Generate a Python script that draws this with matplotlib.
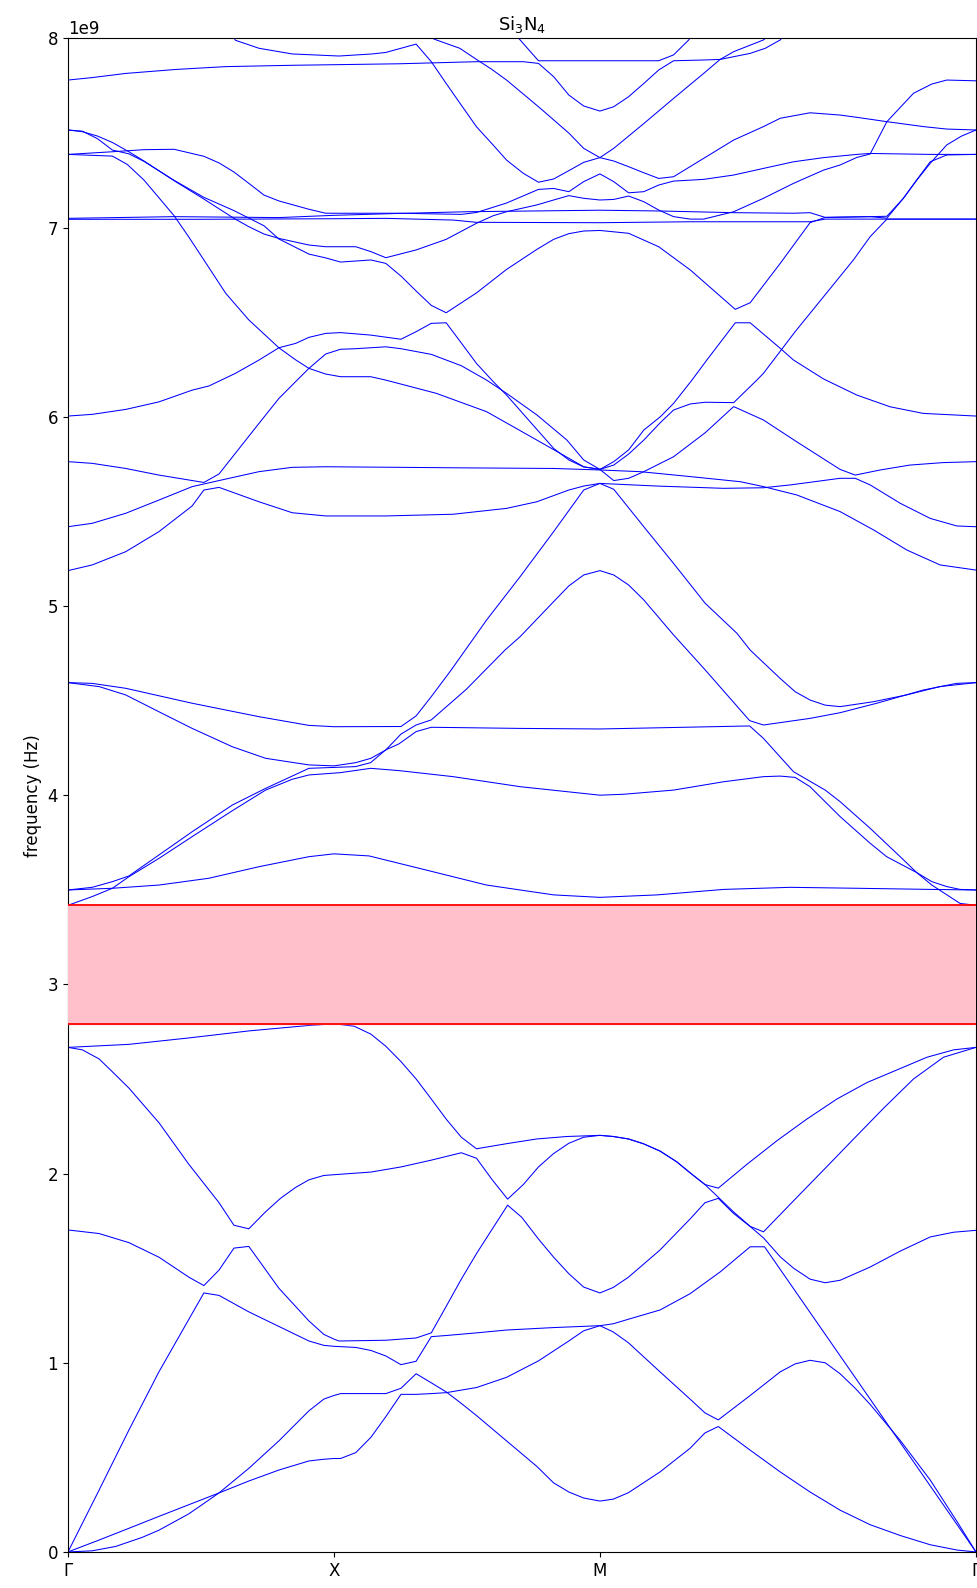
import numpy as np
import matplotlib
matplotlib.use('Agg')
import matplotlib.pyplot as plt

# path Γ-X-M-Γ, |M-Γ| = sqrt(2) * |Γ-X|
k_ticks = [0.0, 1.0, 2.0, 2.0 + np.sqrt(2)]
k_labels = ['Γ', 'X', 'M', 'Γ']

# bands as (k, frequency / 1e9 Hz)
b01 = [(0,0),(0.091,0.006),(0.179,0.029),(0.279,0.077),(0.342,0.115),(0.455,0.202),(0.568,0.312),(0.680,0.442),(0.793,0.587),(0.906,0.746),(0.962,0.808),(1.0,0.827),(1.025,0.837),(1.195,0.837),(1.252,0.865),(1.309,0.942),(1.366,0.894),(1.422,0.846),(1.479,0.785),(1.536,0.721),(1.649,0.587),(1.763,0.452),(1.826,0.365),(1.883,0.317),(1.939,0.285),(2.0,0.269),(2.05,0.279),(2.107,0.313),(2.226,0.423),(2.339,0.548),(2.395,0.629),(2.445,0.663),(2.565,0.538),(2.678,0.423),(2.790,0.317),(2.903,0.221),(3.016,0.144),(3.129,0.087),(3.242,0.038),(3.343,0.01),(3.414,0)]
b02 = [(0,0),(0.117,0.063),(0.229,0.125),(0.342,0.188),(0.455,0.25),(0.568,0.312),(0.680,0.375),(0.793,0.433),(0.906,0.481),(0.962,0.490),(1.0,0.494),(1.025,0.494),(1.082,0.525),(1.139,0.606),(1.195,0.715),(1.252,0.833),(1.309,0.833),(1.366,0.837),(1.422,0.842),(1.536,0.869),(1.649,0.923),(1.769,1.01),(1.883,1.115),(1.939,1.169),(2.0,1.196),(2.05,1.163),(2.107,1.106),(2.226,0.952),(2.339,0.808),(2.395,0.735),(2.445,0.698),(2.565,0.827),(2.678,0.952),(2.734,0.994),(2.790,1.013),(2.847,1.0),(2.903,0.942),(2.960,0.865),(3.016,0.78),(3.129,0.59),(3.242,0.38),(3.343,0.16),(3.414,0)]
b03 = [(0,0),(0.117,0.327),(0.229,0.644),(0.342,0.952),(0.455,1.231),(0.511,1.369),(0.568,1.356),(0.680,1.269),(0.793,1.192),(0.906,1.115),(0.962,1.092),(1.0,1.087),(1.082,1.081),(1.139,1.065),(1.195,1.036),(1.252,0.99),(1.309,1.008),(1.366,1.138),(1.422,1.144),(1.536,1.158),(1.649,1.173),(1.826,1.186),(2.0,1.196),(2.05,1.206),(2.107,1.23),(2.226,1.279),(2.339,1.365),(2.452,1.48),(2.565,1.613),(2.619,1.613),(3.016,0.808),(3.414,0)]
b04 = [(0,1.702),(0.117,1.683),(0.229,1.635),(0.342,1.558),(0.455,1.452),(0.511,1.408),(0.568,1.490),(0.624,1.606),(0.680,1.615),(0.793,1.394),(0.906,1.221),(0.962,1.15),(1.0,1.125),(1.019,1.115),(1.195,1.119),(1.309,1.131),(1.366,1.158),(1.422,1.298),(1.479,1.442),(1.536,1.577),(1.593,1.702),(1.653,1.833),(1.706,1.769),(1.769,1.654),(1.826,1.558),(1.883,1.471),(1.939,1.4),(2.0,1.369),(2.05,1.398),(2.107,1.452),(2.226,1.596),(2.339,1.76),(2.395,1.846),(2.445,1.869),(2.502,1.79),(2.565,1.72),(2.615,1.66),(2.678,1.56),(2.728,1.5),(2.790,1.442),(2.847,1.423),(2.903,1.436),(3.016,1.506),(3.129,1.59),(3.242,1.665),(3.330,1.69),(3.414,1.70)]
b05 = [(0,2.667),(0.054,2.654),(0.117,2.606),(0.167,2.538),(0.229,2.452),(0.342,2.269),(0.455,2.048),(0.568,1.846),(0.624,1.727),(0.680,1.708),(0.743,1.798),(0.799,1.869),(0.856,1.927),(0.906,1.967),(0.962,1.99),(1.0,1.994),(1.139,2.008),(1.252,2.035),(1.366,2.071),(1.479,2.11),(1.536,2.081),(1.593,1.971),(1.653,1.865),(1.712,1.942),(1.769,2.035),(1.826,2.106),(1.883,2.16),(1.939,2.192),(2.0,2.202),(2.05,2.196),(2.107,2.183),(2.163,2.158),(2.226,2.119),(2.289,2.062),(2.339,2.004),(2.395,1.942),(2.445,1.875),(2.502,1.798),(2.565,1.721),(2.615,1.692),(2.728,1.856),(2.841,2.019),(2.954,2.183),(3.067,2.346),(3.179,2.5),(3.292,2.615),(3.414,2.667)]
b06 = [(0,2.667),(0.229,2.683),(0.455,2.717),(0.680,2.754),(0.906,2.783),(0.962,2.788),(1.0,2.792),(1.076,2.779),(1.139,2.737),(1.195,2.673),(1.252,2.592),(1.309,2.5),(1.366,2.394),(1.422,2.288),(1.479,2.192),(1.536,2.131),(1.649,2.158),(1.763,2.183),(1.876,2.196),(2.0,2.202),(2.05,2.196),(2.107,2.183),(2.163,2.158),(2.226,2.119),(2.289,2.062),(2.339,2.004),(2.395,1.942),(2.445,1.923),(2.552,2.048),(2.665,2.173),(2.778,2.288),(2.891,2.394),(3.004,2.481),(3.117,2.548),(3.230,2.615),(3.330,2.654),(3.414,2.667)]
b07 = [(0,3.418),(0.091,3.464),(0.167,3.508),(0.229,3.569),(0.342,3.666),(0.467,3.781),(0.618,3.918),(0.743,4.027),(0.843,4.084),(0.906,4.107),(1.023,4.119),(1.138,4.142),(1.244,4.13),(1.448,4.098),(1.70,4.045),(2.0,4.0),(2.09,4.005),(2.277,4.027),(2.465,4.071),(2.615,4.098),(2.678,4.101),(2.734,4.094),(2.79,4.045),(2.903,3.887),(3.016,3.746),(3.078,3.675),(3.191,3.591),(3.248,3.525),(3.354,3.428),(3.414,3.418)]
b08 = [(0,3.499),(0.091,3.513),(0.167,3.543),(0.229,3.573),(0.342,3.684),(0.467,3.807),(0.618,3.948),(0.743,4.036),(0.843,4.101),(0.906,4.142),(1.081,4.151),(1.138,4.172),(1.194,4.239),(1.244,4.271),(1.309,4.336),(1.366,4.359),(1.70,4.353),(2.0,4.35),(2.563,4.366),(2.615,4.3),(2.728,4.124),(2.847,4.027),(2.903,3.966),(3.016,3.825),(3.129,3.675),(3.191,3.591),(3.248,3.543),(3.304,3.517),(3.354,3.502),(3.414,3.499)]
b09 = [(0,3.499),(0.167,3.508),(0.342,3.525),(0.53,3.561),(0.718,3.622),(0.906,3.675),(1.0,3.69),(1.132,3.679),(1.322,3.613),(1.574,3.525),(1.826,3.473),(2.0,3.46),(2.215,3.473),(2.465,3.502),(2.716,3.513),(2.966,3.508),(3.242,3.502),(3.414,3.499)]
b10 = [(0,4.595),(0.091,4.591),(0.217,4.565),(0.467,4.486),(0.718,4.415),(0.906,4.369),(1.0,4.362),(1.252,4.363),(1.309,4.419),(1.366,4.521),(1.441,4.662),(1.574,4.926),(1.70,5.155),(1.826,5.393),(1.939,5.613),(2.0,5.648),(2.052,5.617),(2.165,5.419),(2.277,5.225),(2.396,5.014),(2.515,4.856),(2.565,4.767),(2.678,4.617),(2.734,4.547),(2.79,4.503),(2.847,4.476),(2.903,4.468),(3.028,4.494),(3.153,4.53),(3.278,4.574),(3.414,4.595)]
b11 = [(0,4.595),(0.117,4.574),(0.217,4.53),(0.342,4.441),(0.467,4.353),(0.618,4.256),(0.743,4.195),(0.906,4.16),(1.0,4.155),(1.082,4.172),(1.139,4.195),(1.195,4.239),(1.252,4.323),(1.309,4.371),(1.366,4.398),(1.498,4.56),(1.643,4.767),(1.70,4.838),(1.826,5.023),(1.883,5.106),(1.939,5.164),(2.0,5.187),(2.052,5.164),(2.108,5.111),(2.165,5.032),(2.277,4.847),(2.396,4.662),(2.563,4.394),(2.615,4.371),(2.79,4.406),(2.903,4.436),(3.041,4.486),(3.216,4.556),(3.341,4.591),(3.414,4.595)]
b12 = [(0,5.187),(0.091,5.217),(0.217,5.287),(0.342,5.393),(0.467,5.529),(0.511,5.613),(0.568,5.627),(0.718,5.551),(0.843,5.493),(0.969,5.476),(1.195,5.476),(1.448,5.485),(1.649,5.516),(1.763,5.551),(1.883,5.613),(1.939,5.634),(2.0,5.648),(2.215,5.634),(2.465,5.622),(2.615,5.625),(2.716,5.64),(2.903,5.675),(2.96,5.675),(3.016,5.64),(3.129,5.543),(3.242,5.463),(3.342,5.423),(3.414,5.419)]
b13 = [(0,5.419),(0.091,5.437),(0.217,5.49),(0.342,5.56),(0.467,5.631),(0.568,5.663),(0.718,5.71),(0.843,5.733),(0.969,5.736),(1.244,5.733),(1.5,5.73),(1.826,5.727),(2.0,5.719),(2.152,5.71),(2.34,5.684),(2.528,5.657),(2.615,5.631),(2.74,5.587),(2.903,5.499),(3.029,5.402),(3.154,5.296),(3.279,5.217),(3.414,5.19)]
b14 = [(0,5.763),(0.091,5.754),(0.217,5.727),(0.342,5.692),(0.511,5.653),(0.568,5.698),(0.718,5.965),(0.793,6.097),(0.856,6.186),(0.906,6.256),(0.969,6.332),(1.025,6.357),(1.082,6.36),(1.195,6.37),(1.252,6.36),(1.366,6.33),(1.479,6.27),(1.574,6.194),(1.649,6.124),(1.763,6.01),(1.876,5.877),(1.939,5.772),(2.0,5.722),(2.052,5.663),(2.108,5.675),(2.165,5.71),(2.277,5.789),(2.396,5.916),(2.503,6.054),(2.615,5.983),(2.74,5.868),(2.903,5.722),(2.96,5.692),(3.054,5.719),(3.166,5.745),(3.291,5.758),(3.414,5.763)]
b15 = [(0,6.004),(0.091,6.013),(0.217,6.039),(0.342,6.079),(0.467,6.141),(0.530,6.163),(0.630,6.23),(0.718,6.3),(0.793,6.365),(0.856,6.388),(0.906,6.42),(0.969,6.441),(1.025,6.445),(1.138,6.432),(1.252,6.41),(1.309,6.45),(1.366,6.494),(1.422,6.497),(1.479,6.39),(1.536,6.282),(1.599,6.186),(1.649,6.115),(1.826,5.833),(1.883,5.772),(1.939,5.735),(2.0,5.722),(2.052,5.763),(2.108,5.825),(2.165,5.93),(2.227,6.0),(2.277,6.071),(2.346,6.194),(2.402,6.3),(2.509,6.497),(2.565,6.497),(2.678,6.362),(2.728,6.3),(2.841,6.2),(2.966,6.115),(3.091,6.053),(3.216,6.018),(3.414,6.004)]
b16 = [(0,7.387),(0.167,7.378),(0.223,7.334),(0.286,7.251),(0.399,7.063),(0.455,6.949),(0.511,6.829),(0.593,6.653),(0.680,6.512),(0.793,6.365),(0.856,6.301),(0.906,6.256),(0.969,6.226),(1.025,6.212),(1.138,6.212),(1.195,6.194),(1.385,6.124),(1.574,6.027),(1.763,5.877),(1.883,5.781),(1.939,5.736),(2.0,5.722),(2.052,5.745),(2.108,5.803),(2.165,5.877),(2.227,5.969),(2.277,6.036),(2.34,6.068),(2.396,6.077),(2.503,6.075),(2.59,6.194),(2.615,6.23),(2.734,6.45),(2.841,6.635),(2.953,6.829),(3.016,6.952),(3.079,7.045),(3.216,7.045),(3.414,7.045)]
b17 = [(0,7.044),(0.5,7.044),(1.0,7.047),(1.195,7.049),(1.448,7.04),(1.536,7.028),(2.0,7.026),(2.34,7.031),(2.79,7.031),(2.847,7.045),(3.414,7.045)]
b18 = [(0,7.049),(0.399,7.058),(0.793,7.053),(1.0,7.065),(1.244,7.075),(1.5,7.084),(1.75,7.088),(2.0,7.092),(2.221,7.088),(2.503,7.079),(2.728,7.076),(2.79,7.079),(2.847,7.054),(3.016,7.058),(3.079,7.06),(3.141,7.155),(3.191,7.252),(3.242,7.348),(3.304,7.384),(3.414,7.387)]
b19 = [(0,7.387),(0.167,7.401),(0.286,7.412),(0.399,7.414),(0.511,7.377),(0.568,7.342),(0.624,7.294),(0.680,7.234),(0.737,7.172),(0.793,7.141),(0.906,7.097),(0.969,7.076),(1.081,7.076),(1.244,7.076),(1.479,7.07),(1.536,7.08),(1.649,7.13),(1.769,7.202),(1.826,7.207),(1.883,7.19),(1.939,7.243),(2.0,7.284),(2.052,7.243),(2.108,7.184),(2.165,7.19),(2.221,7.225),(2.277,7.246),(2.39,7.255),(2.503,7.278),(2.615,7.313),(2.728,7.348),(2.841,7.37),(2.966,7.387),(3.016,7.392),(3.242,7.387),(3.414,7.387)]
b20 = [(0,7.516),(0.054,7.507),(0.111,7.484),(0.167,7.45),(0.229,7.401),(0.286,7.352),(0.399,7.248),(0.511,7.151),(0.624,7.049),(0.680,7.005),(0.737,6.966),(0.793,6.943),(0.906,6.908),(0.969,6.899),(1.082,6.899),(1.139,6.873),(1.195,6.841),(1.309,6.882),(1.422,6.938),(1.536,7.023),(1.599,7.063),(1.649,7.084),(1.763,7.12),(1.826,7.146),(1.883,7.169),(1.939,7.155),(2.0,7.146),(2.052,7.149),(2.108,7.167),(2.165,7.137),(2.221,7.093),(2.277,7.058),(2.34,7.045),(2.39,7.045),(2.503,7.084),(2.615,7.155),(2.728,7.234),(2.841,7.304),(2.903,7.331),(2.966,7.371),(3.016,7.389),(3.079,7.56),(3.179,7.71),(3.248,7.759),(3.304,7.78),(3.414,7.776)]
b21 = [(0,7.516),(0.054,7.51),(0.111,7.47),(0.167,7.41),(0.229,7.39),(0.286,7.35),(0.399,7.25),(0.511,7.16),(0.624,7.09),(0.737,7.01),(0.793,6.94),(0.906,6.86),(0.969,6.84),(1.025,6.818),(1.139,6.829),(1.195,6.811),(1.252,6.744),(1.309,6.665),(1.366,6.589),(1.422,6.55),(1.536,6.655),(1.649,6.779),(1.763,6.885),(1.826,6.938),(1.883,6.968),(1.939,6.982),(2.0,6.985),(2.108,6.97),(2.221,6.899),(2.34,6.776),(2.509,6.568),(2.565,6.603),(2.678,6.811),(2.79,7.026),(2.847,7.054),(3.016,7.058),(3.079,7.05),(3.141,7.155),(3.191,7.25),(3.242,7.34),(3.304,7.437),(3.36,7.484),(3.414,7.516)]
b22 = [(0,7.78),(0.091,7.793),(0.217,7.815),(0.405,7.836),(0.593,7.851),(0.843,7.858),(1.244,7.866),(1.536,7.877),(1.712,7.877),(1.769,7.868),(1.826,7.798),(1.883,7.701),(1.939,7.643),(2.0,7.616),(2.052,7.639),(2.108,7.692),(2.165,7.762),(2.221,7.833),(2.277,7.882),(2.39,7.886),(2.452,7.889),(2.565,7.921),(2.622,7.948),(2.678,7.992),(2.72,8.06)]
b23 = [(0.6,8.05),(0.63,7.99),(0.718,7.948),(0.843,7.918),(1.019,7.907),(1.144,7.918),(1.195,7.926),(1.309,7.97),(1.366,7.877),(1.422,7.762),(1.479,7.647),(1.536,7.533),(1.599,7.436),(1.649,7.357),(1.712,7.287),(1.769,7.24),(1.826,7.257),(1.883,7.301),(1.939,7.345),(2.0,7.37),(2.052,7.419),(2.165,7.55),(2.277,7.683),(2.39,7.815),(2.452,7.889),(2.503,7.93),(2.615,7.992),(2.66,8.05)]
b24 = [(1.3,8.04),(1.385,7.992),(1.473,7.948),(1.536,7.889),(1.593,7.837),(1.649,7.78),(1.769,7.639),(1.883,7.5),(1.939,7.419),(2.0,7.37),(2.052,7.352),(2.108,7.322),(2.165,7.29),(2.221,7.26),(2.277,7.269),(2.39,7.366),(2.503,7.463),(2.615,7.534),(2.678,7.578),(2.79,7.607),(2.903,7.595),(2.966,7.583),(3.079,7.56),(3.216,7.534),(3.304,7.521),(3.414,7.516)]
b25 = [(1.67,8.04),(1.70,7.992),(1.769,7.882),(2.0,7.882),(2.221,7.882),(2.277,7.913),(2.334,7.992),(2.36,8.05)]

bands = [b01, b02, b03, b04, b05, b06, b07, b08, b09, b10, b11, b12, b13,
         b14, b15, b16, b17, b18, b19, b20, b21, b22, b23, b24, b25]

fig = plt.figure(figsize=(9.78, 15.88), dpi=100)
ax = fig.add_axes([0.0695, 0.0227, 0.9285, 0.9531])

for b in bands:
    arr = np.array(b)
    ax.plot(arr[:, 0], arr[:, 1] * 1e9, color='blue', lw=0.75)

# band gap between band 6 top and band 7 bottom
gap_lo = max(f for _, f in b06) * 1e9
gap_hi = min(f for _, f in b07) * 1e9
ax.axhspan(gap_lo, gap_hi, color='pink', zorder=3)
ax.axhline(gap_lo, color='red', lw=1.3, zorder=4)
ax.axhline(gap_hi, color='red', lw=1.3, zorder=4)

ax.set_xlim(k_ticks[0], k_ticks[-1])
ax.set_ylim(0, 8e9)
ax.set_xticks(k_ticks)
ax.set_xticklabels(k_labels)
ax.tick_params(labelsize=12)
ax.yaxis.get_offset_text().set_fontsize(12)
ax.set_ylabel('frequency (Hz)', fontsize=12)
ax.set_title('Si$_3$N$_4$', fontsize=13)

fig.savefig('out.png', dpi=100)
